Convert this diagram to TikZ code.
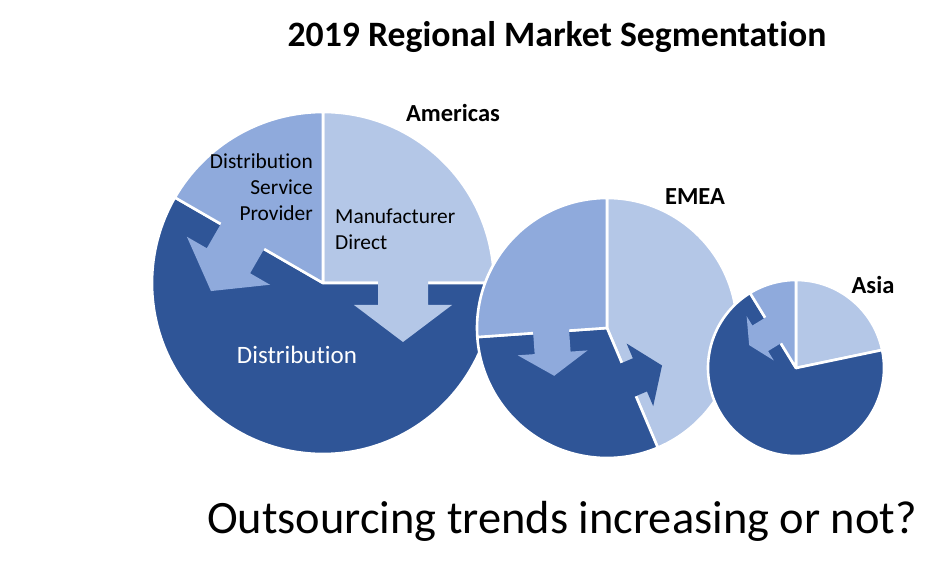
\documentclass[tikz,border=0pt]{standalone}
\usepackage{fontspec}
\setmainfont{Carlito}[Ligatures={NoCommon,NoContextual,NoRequired},RawFeature=-calt]
\definecolor{darkblue}{HTML}{2F5597}
\definecolor{midblue}{HTML}{8FAADC}
\definecolor{lightblue}{HTML}{B4C7E7}

\begin{document}
\begin{tikzpicture}
[
	x=1pt, y=1pt,
	slice/.style={draw=white, line width=2.6pt, line join=round},
	region/.style={font=\bfseries\fontsize{24.5}{29}\selectfont},
	share/.style={font=\fontsize{21.4}{26}\selectfont, inner sep=0pt},
]
	\useasboundingbox (0,0) rectangle (950,576);

	% Americas
	\begin{scope}[shift={(323,293)}]
		\filldraw[slice,fill=lightblue] (0,0) -- (90:171pt) arc[start angle=90, end angle=0, radius=171pt] -- cycle;
		\filldraw[slice,fill=darkblue] (0,0) -- (0:171pt) arc[start angle=0, end angle=-210, radius=171pt] -- cycle;
		\filldraw[slice,fill=midblue] (0,0) -- (150:171pt) arc[start angle=150, end angle=90, radius=171pt] -- cycle;
	\end{scope}

	\begin{scope}[shift={(323,293)}]
		\fill[lightblue] (55,4) -- (55,-22) -- (31,-22) -- (80,-59) -- (129,-22) -- (105,-22) -- (105,4) -- cycle;
	\end{scope}

	\begin{scope}[shift={(323,293)},rotate=150,yscale=-1]
		\fill[midblue] (68,4) -- (68,-28) -- (45,-28) -- (93,-63) -- (141,-28) -- (118,-28) -- (118,4) -- cycle;
	\end{scope}

	% EMEA
	\begin{scope}[shift={(607,248)}]
		\filldraw[slice,fill=lightblue] (0,0) -- (90:130pt) arc[start angle=90, end angle=-67, radius=130pt] -- cycle;
		\filldraw[slice,fill=darkblue] (0,0) -- (-67:130pt) arc[start angle=-67, end angle=-176, radius=130pt] -- cycle;
		\filldraw[slice,fill=midblue] (0,0) -- (184:130pt) arc[start angle=184, end angle=90, radius=130pt] -- cycle;
	\end{scope}

	\begin{scope}[shift={(607,248)},rotate=184,yscale=-1]
		\fill[midblue] (38,4) -- (38,-21) -- (21,-21) -- (56,-44) -- (91,-21) -- (74,-21) -- (74,4) -- cycle;
	\end{scope}

	\begin{scope}[shift={(607,248)},rotate=-67,yscale=-1]
		\fill[darkblue] (38,4) -- (38,-12) -- (22,-12) -- (56,-36) -- (90,-12) -- (74,-12) -- (74,4) -- cycle;
	\end{scope}

	% Asia
	\begin{scope}[shift={(796,208)}]
		\filldraw[slice,fill=lightblue] (0,0) -- (90:88pt) arc[start angle=90, end angle=11.8, radius=88pt] -- cycle;
		\filldraw[slice,fill=darkblue] (0,0) -- (11.8:88pt) arc[start angle=11.8, end angle=-238.5, radius=88pt] -- cycle;
		\filldraw[slice,fill=midblue] (0,0) -- (121.5:88pt) arc[start angle=121.5, end angle=90, radius=88pt] -- cycle;
	\end{scope}

	\begin{scope}[shift={(796,208)},rotate=121.5,yscale=-1]
		\fill[midblue] (29,4) -- (29,-15) -- (18,-15) -- (44,-28) -- (70,-15) -- (59,-15) -- (59,4) -- cycle;
	\end{scope}

	% texts
	\node[font=\bfseries\fontsize{35.7}{43}\selectfont] (title) at (557,539) {2019 Regional Market Segmentation};
	\node[region] (americas) at (453,463) {Americas};
	\node[region] (emea) at (695,379) {EMEA};
	\node[region] (asia) at (873,291) {Asia};
	\node[share,align=right,anchor=east] (dsp) at (313,389) {Distribution\\Service\\Provider};
	\node[share,align=left,anchor=west] (md) at (335,347) {Manufacturer\\Direct};
	\node[share,text=white,font=\fontsize{25}{30}\selectfont] (dist) at (297,221) {Distribution};
	\node[font=\fontsize{46.4}{56}\selectfont] (question) at (562,55) {Outsourcing trends increasing or not?};
\end{tikzpicture}
\end{document}
